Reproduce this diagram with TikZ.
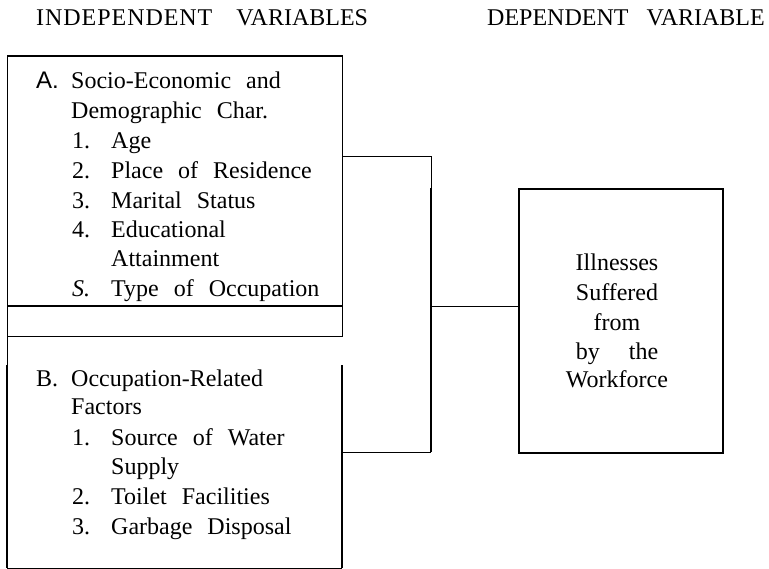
\documentclass[tikz,border=0pt]{standalone}
\usepackage{fontspec}
\setmainfont[WordSpace=2.5]{Liberation Serif}
\newfontfamily\titlefont{Liberation Serif}
\newfontfamily\titlewide[LetterSpace=4]{Liberation Serif}
\newfontfamily\sansA{Liberation Sans}
\begin{document}
\tikzset{
  thinln/.style={line width=0.9pt},
  thickln/.style={line width=1.8pt},
  txt/.style={anchor=base west, inner sep=0pt, font=\fontsize{24}{29.5}\selectfont},
  ctxt/.style={anchor=base, inner sep=0pt, font=\fontsize{24}{29.5}\selectfont},
  boxn/.style={draw, inner sep=0pt, anchor=north west}
}
\begin{tikzpicture}[x=1pt,y=-1pt]
\useasboundingbox (0,0) rectangle (769,569);
% titles
\node[txt] (t1) at (36,26) {{\titlewide INDEPENDENT}\hspace{24pt}{\titlefont VARIABLES}};
\node[txt] (t2) at (487,26) {\titlefont DEPENDENT\hspace{18pt}VARIABLE};
% box A
\node[boxn, thinln, minimum width=335pt, minimum height=249pt] (A) at (7,56) {};
\draw[thickln] (A.north west) -- (A.north east);
\node[boxn, thinln, minimum width=335pt, minimum height=30pt] (S) at (A.south west) {};
% box B (open top)
\coordinate (Bnw) at (7,365);
\coordinate (Bne) at (342,365);
\coordinate (Bsw) at (7,568);
\coordinate (Bse) at (342,568);
\draw[thinln] (S.south west) -- (Bnw);
\draw[thickln] (Bnw) -- (Bsw);
\draw[thinln] (Bsw) -- (Bse);
\draw[thickln] (Bse) -- (Bne);
% dependent box
\node[boxn, thickln, minimum width=204pt, minimum height=264pt] (D) at (518,188) {};
% connectors
\coordinate (j1) at (431,156);
\coordinate (j3) at (431,188);
\coordinate (j2) at (431,452);
\coordinate (jm) at (431,306);
\draw[thinln] (A.east |- j1) -- (j1) -- (j3);
\draw[thickln] (j3) -- (j2);
\draw[thinln] (j2) -- (Bne |- j2);
\draw[thinln] (jm) -- (D.west |- jm);
% text A
\node[txt] (a0) at (36,89) {\sansA A.};
\node[txt] (a1) at (71,89) {Socio-Economic and};
\node[txt] (a2) at (71,119) {Demographic Char.};
\node[txt] (n1) at (72,149) {1.};
\node[txt] (i1) at (111,149) {Age};
\node[txt] (n2) at (72,179) {2.};
\node[txt] (i2) at (111,179) {Place of Residence};
\node[txt] (n3) at (72,209) {3.};
\node[txt] (i3) at (111,209) {Marital Status};
\node[txt] (n4) at (72,238) {4.};
\node[txt] (i4) at (111,238) {Educational};
\node[txt] (i4b) at (111,267) {Attainment};
\node[txt] (n5) at (72,297) {\textit{S.}};
\node[txt] (i5) at (111,297) {Type of Occupation};
% text B
\node[txt] (b0) at (36,387) {B.};
\node[txt] (b1) at (71,387) {Occupation-Related};
\node[txt] (b2) at (71,415) {Factors};
\node[txt] (m1) at (72,446) {1.};
\node[txt] (k1) at (111,446) {Source of Water};
\node[txt] (k1b) at (111,475) {Supply};
\node[txt] (m2) at (72,504) {2.};
\node[txt] (k2) at (111,504) {Toilet Facilities};
\node[txt] (m3) at (72,534) {3.};
\node[txt] (k3) at (111,534) {Garbage Disposal};
% dependent text
\node[ctxt] (d1) at (617,271) {Illnesses};
\node[ctxt] (d2) at (617,301) {Suffered};
\node[ctxt] (d3) at (617,331) {from};
\node[ctxt] (d4) at (617,360) {by\hspace{29pt}the};
\node[ctxt] (d5) at (617,388) {Workforce};
\end{tikzpicture}
\end{document}
